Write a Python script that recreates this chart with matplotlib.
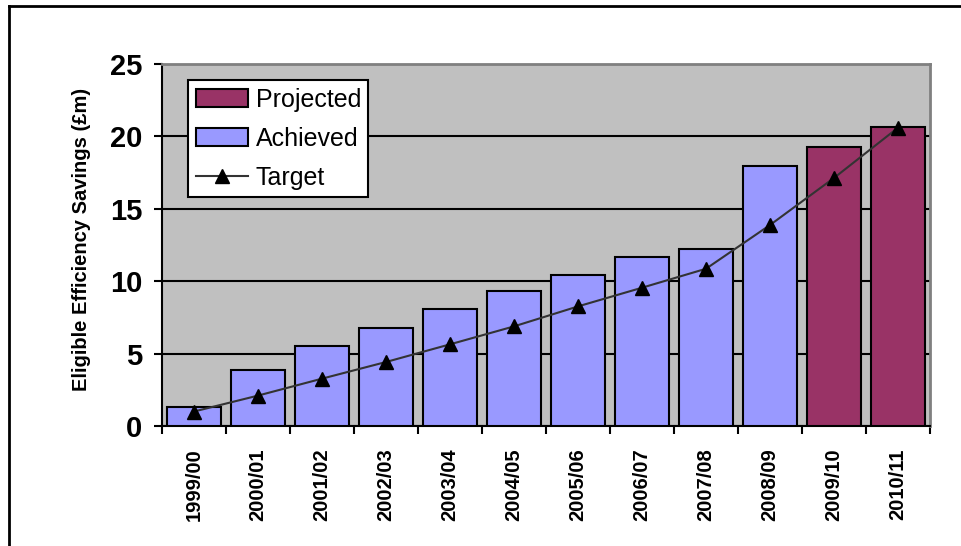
import numpy as np
import matplotlib
matplotlib.use("Agg")
import matplotlib.pyplot as plt
from matplotlib.patches import Patch
from matplotlib.lines import Line2D

# data
years = ["1999/00", "2000/01", "2001/02", "2002/03", "2003/04", "2004/05",
         "2005/06", "2006/07", "2007/08", "2008/09", "2009/10", "2010/11"]
savings = [1.33, 3.87, 5.52, 6.79, 8.08, 9.3, 10.43, 11.65, 12.22, 17.96, 19.29, 20.65]
projected = [False] * 10 + [True] * 2
target = [1.0, 2.1, 3.27, 4.42, 5.64, 6.88, 8.26, 9.55, 10.86, 13.88, 17.13, 20.6]

c_achieved = "#9999FF"
c_projected = "#993366"

plt.rcParams['font.family'] = ['Liberation Sans', 'DejaVu Sans']

fig = plt.figure(figsize=(9.62, 5.46), dpi=100)
ax = fig.add_axes([162 / 962, 120 / 546, 768 / 962, 362 / 546])
ax.set_facecolor("#C0C0C0")

x = np.arange(len(years))
colors = [c_projected if p else c_achieved for p in projected]
ax.bar(x, savings, width=0.83, color=colors, edgecolor="black", linewidth=1.5, zorder=3)
ax.plot(x, target, color="#333333", linewidth=1.5, marker="^", markersize=10,
        markerfacecolor="black", markeredgecolor="black", zorder=4)

ax.set_xlim(-0.5, len(years) - 0.5)
ax.set_ylim(0, 25)
ax.set_yticks([0, 5, 10, 15, 20, 25])
ax.yaxis.grid(True, color="black", linewidth=1.5, zorder=1)
ax.set_axisbelow(True)
ax.tick_params(axis="y", direction="out", length=6, width=1.5, labelsize=21, pad=8)
for lab in ax.get_yticklabels():
    lab.set_fontweight("bold")

ax.set_xticks(x)
ax.set_xticklabels(years, rotation=90, fontsize=14.5, fontweight="bold")
ax.set_xticks(np.arange(-0.5, len(years)), minor=True)
ax.tick_params(axis="x", which="major", length=0, pad=16)
ax.tick_params(axis="x", which="minor", direction="out", length=6, width=1.5)

for s in ["left", "bottom"]:
    ax.spines[s].set_linewidth(1.5)
    ax.spines[s].set_color("black")
for s in ["top", "right"]:
    ax.spines[s].set_linewidth(2)
    ax.spines[s].set_color("#808080")

ax.set_ylabel("Eligible Efficiency Savings (£m)", fontsize=14.5, fontweight="bold")
ax.yaxis.set_label_coords(-0.092, 0.514)

handles = [Patch(facecolor=c_projected, edgecolor="black", linewidth=1.5, label="Projected"),
           Patch(facecolor=c_achieved, edgecolor="black", linewidth=1.5, label="Achieved"),
           Line2D([], [], color="#333333", linewidth=1.5, marker="^", markersize=10,
                  markerfacecolor="black", markeredgecolor="black", label="Target")]
leg = ax.legend(handles=handles, loc="upper left", bbox_to_anchor=(26 / 768, 346 / 362),
                fontsize=18, frameon=True, fancybox=False, framealpha=1,
                edgecolor="black", handlelength=2.1, handleheight=0.7,
                handletextpad=0.3, labelspacing=0.6, borderpad=0.3, borderaxespad=0)
leg.get_frame().set_linewidth(1.5)

# outer chart border (right and bottom edges run off the image)
fig.add_artist(Line2D([9 / 962, 1], [540 / 546, 540 / 546], color="black", linewidth=2))
fig.add_artist(Line2D([9 / 962, 9 / 962], [0, 540 / 546], color="black", linewidth=2))

fig.savefig("out.png", dpi=100)
